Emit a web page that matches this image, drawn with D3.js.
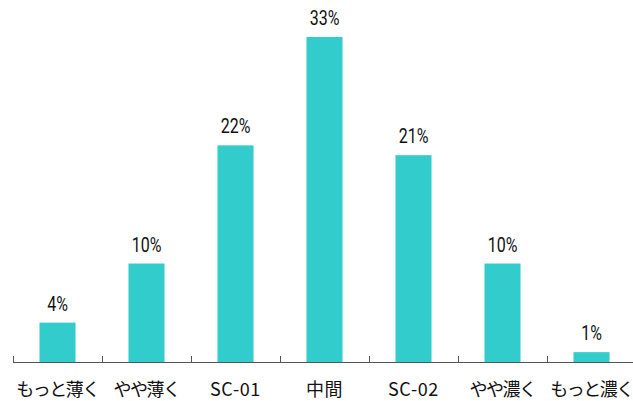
<!DOCTYPE html>
<html><head><meta charset="utf-8">
<script src="https://cdn.jsdelivr.net/npm/d3@7"></script>
<style>html,body{margin:0;padding:0;background:#fff;}</style>
</head><body>
<svg id="c" width="633" height="401"></svg>
<script>
const categories = ["もっと薄く","やや薄く","SC-01","中間","SC-02","やや濃く","もっと濃く"];
const values = [4, 10, 22, 33, 21, 10, 1];
const valueLabels = ["4%","10%","22%","33%","21%","10%","1%"];

const svg = d3.select("#c");
const x = d3.scaleBand().domain(categories).range([13, 636]).padding(0);
const y = d3.scaleLinear().domain([0, 33]).range([362, 37]);
const bw = x.bandwidth() * 0.405;

svg.selectAll("rect.bar").data(values).join("rect")
  .attr("class","bar")
  .attr("x",(d,i)=>x(categories[i]) + x.bandwidth()/2 - bw/2)
  .attr("y",d=>y(d))
  .attr("width",bw)
  .attr("height",d=>y(0)-y(d))
  .attr("fill","#33CCCC");

svg.selectAll("text.val").data(values).join("text")
  .attr("class","val")
  .attr("x",(d,i)=>x(categories[i]) + x.bandwidth()/2)
  .attr("y",d=>y(d)-12)
  .attr("text-anchor","middle")
  .attr("font-family","Roboto,sans-serif")
  .attr("font-size",19.5)
  .attr("fill","#111")
  .text((d,i)=>valueLabels[i])
  .each(function(){
    const w = this.getComputedTextLength();
    d3.select(this).attr("textLength", w*0.82).attr("lengthAdjust","spacingAndGlyphs");
  });

// axis
const ax = svg.append("g");
ax.append("line").attr("x1",13).attr("x2",633).attr("y1",362.5).attr("y2",362.5)
  .attr("stroke","#555").attr("stroke-width",1);
const tickPos = categories.map(c=>x(c)).concat([x.range()[1]]);
ax.selectAll("line.tk").data(tickPos).join("line").attr("class","tk")
  .attr("x1",d=>Math.round(d)+0.5).attr("x2",d=>Math.round(d)+0.5)
  .attr("y1",356).attr("y2",362.5).attr("stroke","#555");

svg.selectAll("text.cat").data(categories).join("text")
  .attr("class","cat")
  .attr("x",d=>x(d)+x.bandwidth()/2)
  .attr("y",396)
  .attr("text-anchor","middle")
  .attr("font-family","'Noto Sans CJK JP',sans-serif")
  .attr("font-size",18)
  .attr("letter-spacing",d=>/[ぁ-ん]/.test(d) ? -1.5 : 0.6)
  .attr("fill","#111")
  .text(d=>d);
</script>
</body></html>
